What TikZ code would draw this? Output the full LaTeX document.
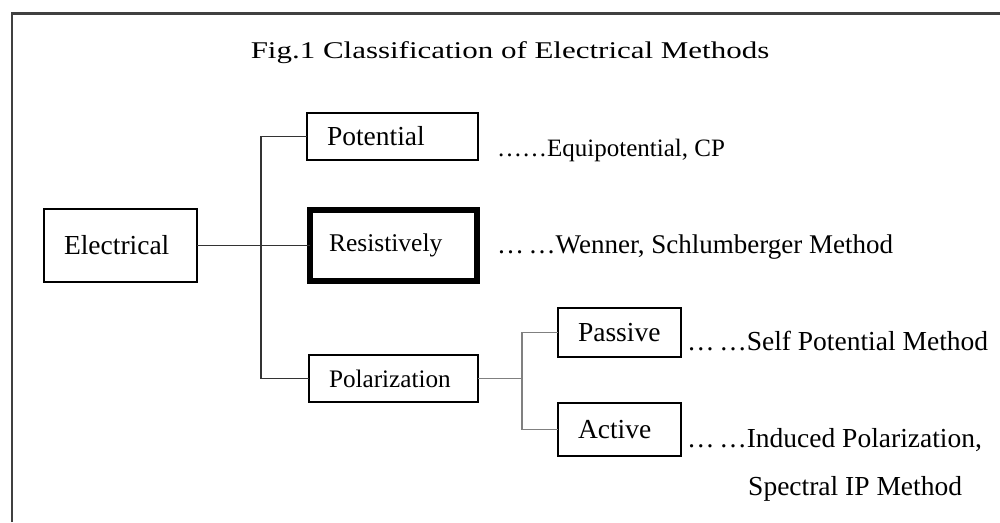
\documentclass[tikz,border=0pt]{standalone}
\usepackage{fontspec}
\setmainfont{Liberation Serif}
\begin{document}
\begin{tikzpicture}[x=1pt,y=-1pt,
  box/.style={draw, line width=1.6pt, anchor=west, align=left, outer sep=0pt,
    inner xsep=20pt, inner ysep=0pt, font=\fontsize{27.5}{30}\selectfont},
  note/.style={anchor=base west, inner sep=0pt, font=\fontsize{27.5}{30}\selectfont},
  linkA/.style={draw=black!80, line width=1.5pt},
  linkB/.style={draw=black!50, line width=1.8pt},
  frame/.style={draw=black!75, line width=2.8pt}]
\useasboundingbox (0,0) rectangle (1000,522);
\fill[white] (0,0) rectangle (1000,522);
% outer frame (only top and left sides visible)
\draw[frame] (12,522) -- (12,13.5) -- (1000,13.5);
% title
\node[font=\fontsize{24}{28}\selectfont, anchor=base, inner sep=0pt] (title) at (510,58.3)
  {\scalebox{1.29}[1]{Fig.1 Classification of Electrical Methods}};
% boxes
\node[box, text width=113pt, minimum height=73pt] (el) at (44,245.5) {Electrical};
\node[box, text width=131pt, minimum height=47pt] (pot) at (307,136.5) {Potential};
\node[box, line width=6pt, inner xsep=19pt, text width=129pt, minimum height=71pt,
  font=\fontsize{25.5}{28}\selectfont] (res) at (310,245.5) {Resistively};
\node[box, text width=129pt, minimum height=47pt, font=\fontsize{25.2}{28}\selectfont] (pol) at (309,378.5) {Polarization};
\node[box, text width=83pt, minimum height=49pt] (pas) at (558,332.5) {Passive};
\node[box, text width=83pt, minimum height=53pt] (act) at (558,429.5) {Active};
% junction coordinates
\coordinate (trunk) at (261,0);
\coordinate (branch) at (522,0);
% connectors
\draw[linkA] (el.east) -- (res.west);
\draw[linkA] (pot.west) -- (pot.west -| trunk) -- (pol.west -| trunk) -- (pol.west);
\draw[linkB] (pol.east) -- (pol.east -| branch);
\draw[linkB] (pas.west) -- (pas.west -| branch) -- (act.west -| branch) -- (act.west);
% notes
\node[note, font=\fontsize{25}{28}\selectfont] (eqt) at (497,156) {……Equipotential, CP};
\node[note, font=\fontsize{27}{30}\selectfont] (wen) at (497,253.6) {…\,…Wenner, Schlumberger Method};
\node[note] (self) at (687,350) {…\,…Self Potential Method};
\node[note] (ind) at (687,447) {…\,…Induced Polarization,};
\node[note] (spec) at (748,495) {Spectral IP Method};
\end{tikzpicture}
\end{document}
